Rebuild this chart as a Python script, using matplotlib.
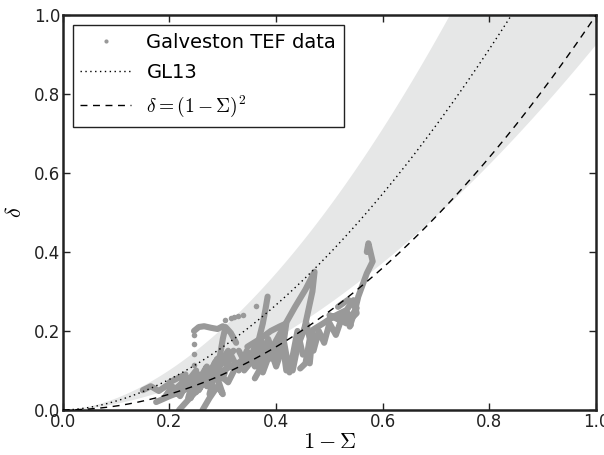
import numpy as np
import matplotlib
matplotlib.use("Agg")
import matplotlib.pyplot as plt
from matplotlib.lines import Line2D

plt.rcParams['mathtext.fontset'] = 'cm'
plt.rcParams['font.family'] = ['DejaVu Sans']

# ---- theoretical curves (parameters) ----
gl13_coef = 1.36
gl13_pow = 1.78
band_hi = 1.30
band_lo = 0.68

# ---- Galveston TEF data, traced tracks (1-Sigma, delta) ----
track1_x = [0.150, 0.165, 0.180, 0.195, 0.210, 0.225, 0.240, 0.255, 0.270]
track1_y = [0.050, 0.060, 0.048, 0.062, 0.052, 0.070, 0.060, 0.078, 0.070]
track2_x = [0.320, 0.300, 0.280, 0.262, 0.245, 0.230, 0.218]
track2_y = [0.150, 0.120, 0.092, 0.065, 0.040, 0.018, 0.000]
track3_x = [0.175, 0.200, 0.225, 0.250, 0.275, 0.300, 0.330, 0.350]
track3_y = [0.020, 0.035, 0.048, 0.070, 0.080, 0.100, 0.120, 0.140]
track4_x = [0.200, 0.230, 0.215, 0.250, 0.235, 0.270, 0.255, 0.290, 0.275, 0.310]
track4_y = [0.070, 0.090, 0.040, 0.100, 0.030, 0.110, 0.050, 0.130, 0.080, 0.150]
track5_x = [0.275, 0.285, 0.295, 0.300, 0.305, 0.315, 0.325]
track5_y = [0.040, 0.090, 0.140, 0.180, 0.210, 0.195, 0.170]
track6_x = [0.246, 0.255, 0.265, 0.278, 0.290, 0.300]
track6_y = [0.200, 0.210, 0.212, 0.208, 0.205, 0.212]
track7_x = [0.340, 0.356, 0.366, 0.375, 0.380, 0.384]
track7_y = [0.100, 0.127, 0.170, 0.219, 0.255, 0.287]
track8_x = [0.360, 0.385, 0.410, 0.435, 0.455, 0.472, 0.468, 0.460, 0.452]
track8_y = [0.080, 0.140, 0.200, 0.260, 0.305, 0.350, 0.300, 0.250, 0.200]
track9_x = [0.346, 0.370, 0.390, 0.406, 0.419, 0.413, 0.419]
track9_y = [0.160, 0.180, 0.200, 0.211, 0.219, 0.161, 0.100]
track10_x = [0.431, 0.440, 0.457, 0.463, 0.455, 0.445]
track10_y = [0.100, 0.160, 0.219, 0.180, 0.118, 0.105]
track11_x = [0.463, 0.469, 0.488, 0.507, 0.520, 0.532, 0.545, 0.551, 0.532, 0.515, 0.500]
track11_y = [0.118, 0.203, 0.219, 0.236, 0.245, 0.253, 0.278, 0.245, 0.219, 0.230, 0.240]
track12_x = [0.538, 0.548, 0.554, 0.570, 0.581, 0.573, 0.570]
track12_y = [0.211, 0.253, 0.287, 0.346, 0.376, 0.422, 0.400]
track13_x = [0.516, 0.535, 0.551, 0.541, 0.530]
track13_y = [0.261, 0.279, 0.258, 0.236, 0.250]
track14_x = [0.240, 0.255, 0.270, 0.285, 0.300, 0.315, 0.330, 0.345, 0.360, 0.375, 0.390]
track14_y = [0.030, 0.090, 0.060, 0.120, 0.080, 0.140, 0.100, 0.150, 0.110, 0.170, 0.130]
track15_x = [0.330, 0.345, 0.360, 0.372, 0.385, 0.398, 0.410]
track15_y = [0.150, 0.110, 0.160, 0.120, 0.180, 0.130, 0.200]
track16_x = [0.262, 0.275, 0.290, 0.300, 0.285, 0.310, 0.325]
track16_y = [0.000, 0.030, 0.060, 0.040, 0.100, 0.070, 0.110]
track17_x = [0.190, 0.205, 0.220, 0.235, 0.250, 0.265, 0.280]
track17_y = [0.030, 0.060, 0.035, 0.075, 0.045, 0.085, 0.055]
track18_x = [0.360, 0.375, 0.390, 0.400, 0.415, 0.425, 0.440, 0.450]
track18_y = [0.120, 0.095, 0.150, 0.110, 0.170, 0.095, 0.200, 0.140]
track19_x = [0.470, 0.480, 0.490, 0.500, 0.512, 0.525, 0.540]
track19_y = [0.150, 0.200, 0.170, 0.220, 0.190, 0.240, 0.215]

dots_x = [0.246, 0.246, 0.246, 0.246, 0.305, 0.315, 0.321, 0.328, 0.337, 0.362]
dots_y = [0.190, 0.168, 0.141, 0.114, 0.228, 0.233, 0.235, 0.238, 0.241, 0.262]

tracks = [
    (track1_x, track1_y), (track2_x, track2_y), (track3_x, track3_y),
    (track4_x, track4_y), (track5_x, track5_y), (track6_x, track6_y),
    (track7_x, track7_y), (track8_x, track8_y), (track9_x, track9_y),
    (track10_x, track10_y), (track11_x, track11_y), (track12_x, track12_y),
    (track13_x, track13_y), (track14_x, track14_y), (track15_x, track15_y),
    (track16_x, track16_y), (track17_x, track17_y), (track18_x, track18_y),
    (track19_x, track19_y),
]

xticks = [0.0, 0.2, 0.4, 0.6, 0.8, 1.0]
yticks = [0.0, 0.2, 0.4, 0.6, 0.8, 1.0]

data_color = '#999999'

fig = plt.figure(figsize=(6.04, 4.55), dpi=100)
ax = fig.add_axes([0.104, 0.099, 0.883, 0.868])

xs = np.linspace(0, 1, 400)
gl13 = gl13_coef * xs ** gl13_pow
ax.fill_between(xs, band_lo * gl13, band_hi * gl13, color='#e6e7e7', lw=0, zorder=1)

for tx, ty in tracks:
    ax.plot(tx, ty, '-', color=data_color, lw=4.4, solid_capstyle='round',
            solid_joinstyle='round', zorder=2)
ax.plot(dots_x, dots_y, 'o', color=data_color, ms=4, mec='none', zorder=2)

ax.plot(xs, gl13, color='k', ls=(0, (1, 2.5)), lw=1.0, zorder=3)
ax.plot(xs, xs ** 2, color='k', ls=(0, (5, 4)), lw=1.0, zorder=3)

ax.set_xlim(0, 1)
ax.set_ylim(0, 1)
ax.set_xticks(xticks)
ax.set_yticks(yticks)
ax.tick_params(direction='in', length=5, width=1, top=True, right=True,
               labelsize=12, pad=2, colors='#222222')
for sp in ax.spines.values():
    sp.set_linewidth(1.8)
    sp.set_color('#222222')

ax.set_xlabel(r'$1-\Sigma$', fontsize=16, labelpad=1)
ax.set_ylabel(r'$\delta$', fontsize=16, labelpad=6)

handles = [
    Line2D([], [], ls='none', marker='o', ms=3, color=data_color, mec='none'),
    Line2D([], [], color='k', ls=(0, (1, 2.5)), lw=1.0),
    Line2D([], [], color='k', ls=(0, (5, 4)), lw=1.0),
]
labels = ['Galveston TEF data', 'GL13', r'$\delta=(1-\Sigma)^2$']
leg = ax.legend(handles, labels, loc='upper left', fontsize=14, numpoints=1,
                fancybox=False, framealpha=1, edgecolor='#222222',
                handlelength=2.6, borderaxespad=0.5, handletextpad=0.8,
                labelspacing=0.6)
leg.get_frame().set_linewidth(1.0)

fig.savefig('out.png', dpi=100)
